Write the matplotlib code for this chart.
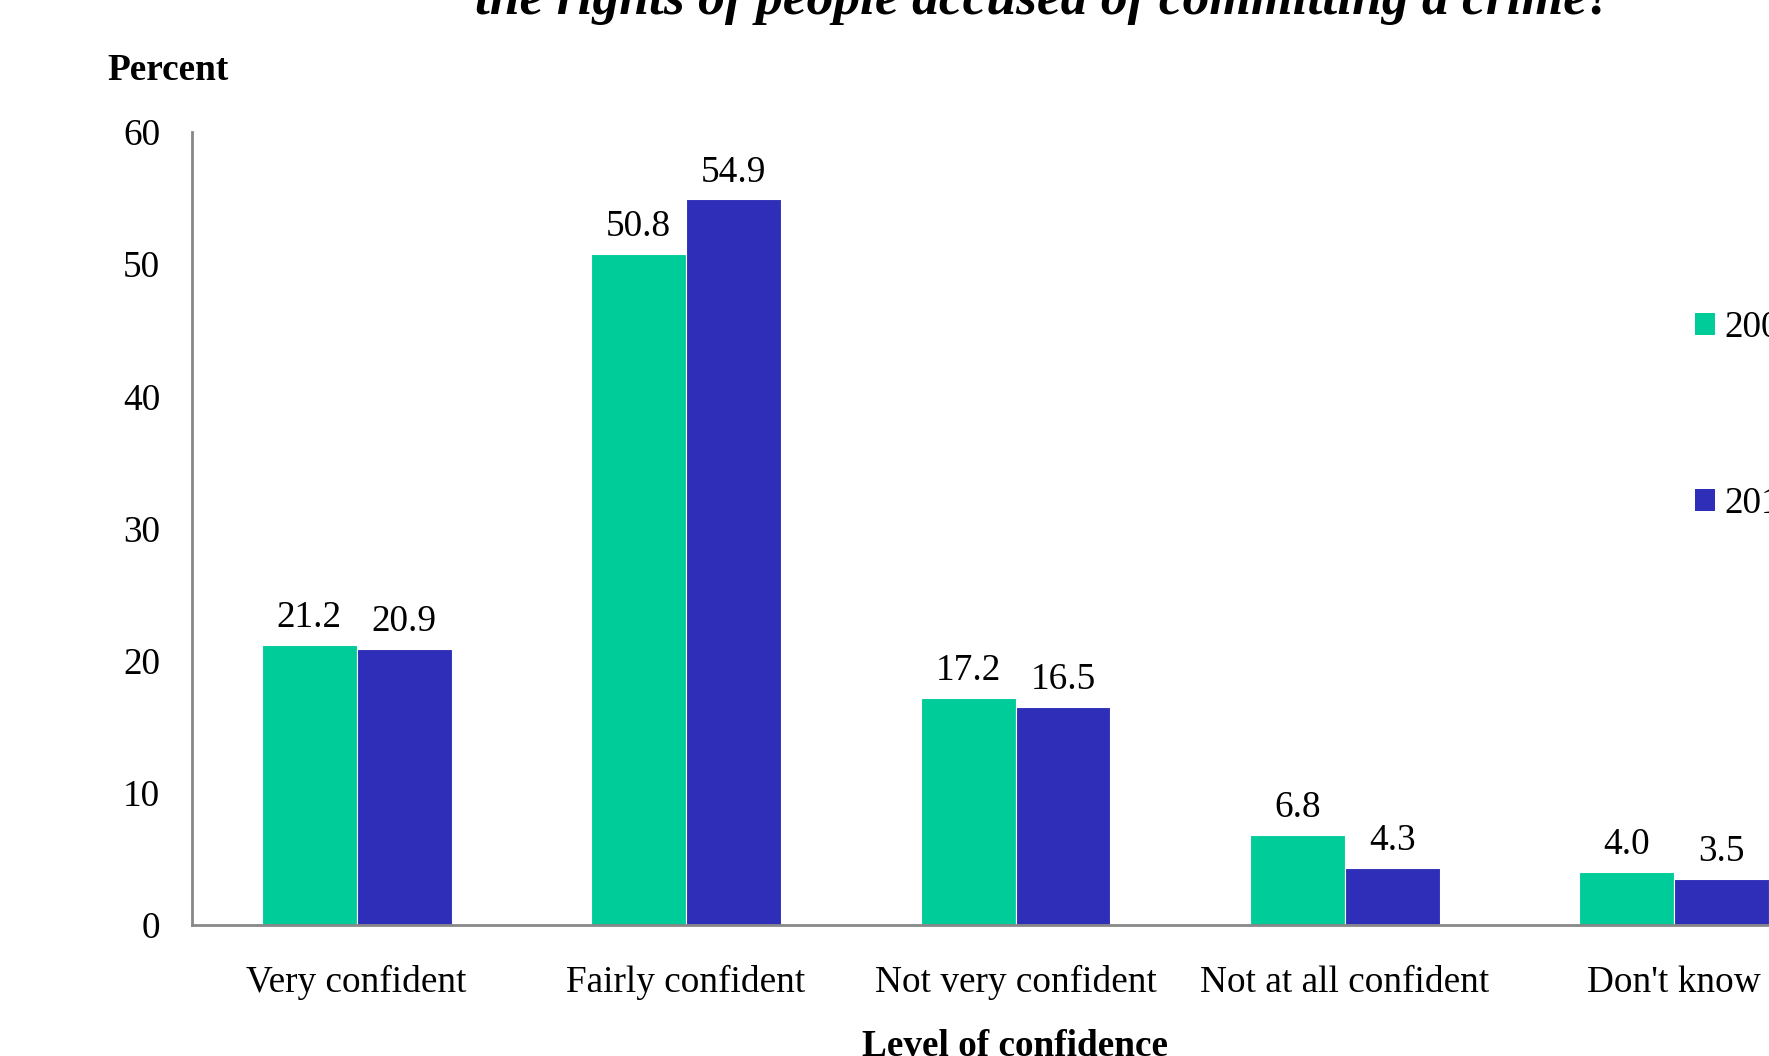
import numpy as np
import matplotlib.pyplot as plt
from matplotlib.patches import Patch

plt.rcParams['font.family'] = ['Liberation Serif', 'DejaVu Serif']

categories = ['Very confident', 'Fairly confident', 'Not very confident',
              'Not at all confident', "Don't know"]
years = ['2009', '2014']
vals_first = [21.2, 50.8, 17.2, 6.8, 4.0]
vals_second = [20.9, 54.9, 16.5, 4.3, 3.5]
colors = ['#00CC99', '#2E2EB8']

fig = plt.figure(figsize=(17.69, 10.56), dpi=100)
# axes run past the right edge of the figure on purpose
ax = fig.add_axes([192 / 1769, 131 / 1056, 1647 / 1769, 793 / 1056])

x = np.arange(len(categories))
w = 0.288
b1 = ax.bar(x - w / 2, vals_first, w, color=colors[0], edgecolor='white', linewidth=0.8)
b2 = ax.bar(x + w / 2, vals_second, w, color=colors[1], edgecolor='white', linewidth=0.8)

for bars in (b1, b2):
    for rect in bars:
        h = rect.get_height()
        ax.annotate(f'{h:.1f}', xy=(rect.get_x() + rect.get_width() / 2, h),
                    xytext=(0, 7), textcoords='offset points',
                    ha='center', va='bottom', fontsize=26.8)

ax.set_xlim(-0.5, 4.5)
ax.set_ylim(0, 60)
ax.set_yticks(range(0, 61, 10))
ax.set_xticks(x)
ax.set_xticklabels(categories)
ax.tick_params(axis='both', length=0, labelsize=26.8)
ax.tick_params(axis='y', pad=23)
ax.tick_params(axis='x', pad=29)

for side in ('top', 'right'):
    ax.spines[side].set_visible(False)
for side in ('left', 'bottom'):
    ax.spines[side].set_color('#888888')
    ax.spines[side].set_linewidth(2)

fig.text(168 / 1769, 1 - 70 / 1056, 'Percent', ha='center', va='center',
         fontsize=26.8, fontweight='bold')
fig.text(1015 / 1769, 1 - 1047 / 1056, 'Level of confidence', ha='center', va='center',
         fontsize=26.8, fontweight='bold')

fig.text(1044 / 1769, 1 - 14 / 1056,
         'How confident are you that the courts protect\nthe rights of people accused of committing a crime?',
         ha='center', va='baseline', fontsize=38.5, fontweight='bold', style='italic',
         linespacing=1.2)

handles = [Patch(facecolor=c, edgecolor='none') for c in colors]
fig.legend(handles, years, loc='upper left', bbox_to_anchor=(1676 / 1769, 1 - 292 / 1056),
           frameon=False, fontsize=26.8, handlelength=0.55, handleheight=0.55,
           handletextpad=0.25, labelspacing=3.8, borderpad=0)

fig.savefig('out.png', dpi=100)
